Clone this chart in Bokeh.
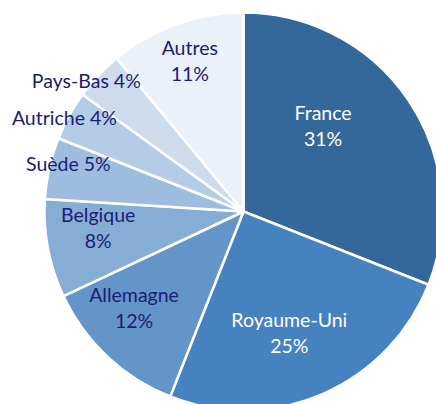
import math
from bokeh.plotting import figure
from bokeh.models import ColumnDataSource, Range1d
from bokeh.core.properties import value
from bokeh.embed import file_html
from bokeh.resources import INLINE

countries = ["France", "Royaume-Uni", "Allemagne", "Belgique", "Suède", "Autriche", "Pays-Bas", "Autres"]
shares = [31, 25, 12, 8, 5, 4, 4, 11]
colors = ["#35689A", "#4682C0", "#6495C9", "#85ADD6", "#9DBCDF", "#B4CCE5", "#CDDCED", "#EBF1F8"]
text_colors = ["white", "white", "#1C1C74", "#1C1C74", "#1C1C74", "#1C1C74", "#1C1C74", "#1C1C74"]
two_lines = [True, True, True, True, False, False, False, True]
# label anchor offsets, as fraction of radius (layout)
label_fx = [0.40, 0.23, -0.55, -0.73, -0.88, -0.90, -0.79, -0.27]
label_fy = [0.43, -0.61, -0.48, -0.08, 0.24, 0.47, 0.66, 0.76]

W, H = 436, 404
cx, cy, R = 243, 193, 199

total = sum(shares)
starts, ends = [], []
cum = 0
for s in shares:
    starts.append(math.pi / 2 - 2 * math.pi * cum / total)
    cum += s
    ends.append(math.pi / 2 - 2 * math.pi * cum / total)

p = figure(width=W, height=H, output_backend="svg", toolbar_location=None,
           x_range=Range1d(0, W), y_range=Range1d(0, H), min_border=0)
p.axis.visible = False
p.grid.visible = False
p.outline_line_color = None
p.background_fill_color = "white"
p.border_fill_color = "white"

src = ColumnDataSource(dict(start=starts, end=ends, color=colors, name=countries))
p.wedge(x=cx, y=cy, radius=R, start_angle="start", end_angle="end", direction="clock",
        fill_color="color", line_color="white", line_width=2.5, source=src)

fs = "19.5px"
for name, s, tc, two, fx, fy in zip(countries, shares, text_colors, two_lines, label_fx, label_fy):
    x = cx + fx * R
    y = cy + fy * R
    if two:
        txt = [name, f"{s}%"]
        ys = [y + 13, y - 13]
    else:
        txt = [f"{name} {s}%"]
        ys = [y]
    p.text(x=[x] * len(txt), y=ys, text=txt, text_color=tc, text_align="center",
           text_baseline="middle", text_font=value("Lato"), text_font_size=fs)

open("out.html", "w").write(file_html(p, INLINE))
